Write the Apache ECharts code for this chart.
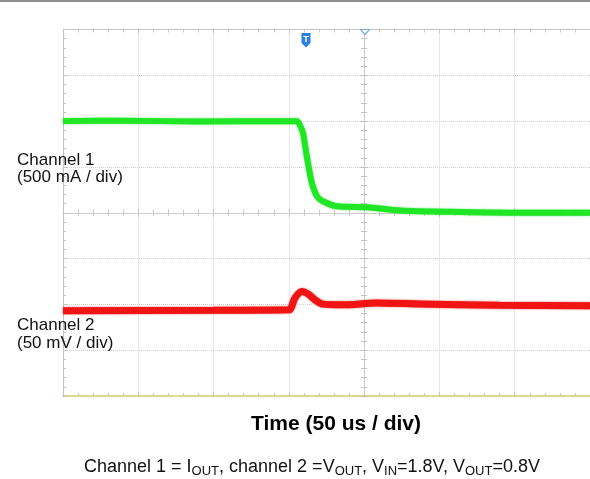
<!DOCTYPE html>
<html>
<head>
<meta charset="utf-8">
<script src="https://cdn.jsdelivr.net/npm/echarts@6/dist/echarts.min.js"></script>
<style>
  html, body { margin: 0; padding: 0; background: #ffffff; }
  #chart { width: 590px; height: 479px; }
</style>
</head>
<body>
<div id="chart"></div>
<script>
// Scope capture of a load step. Time in microseconds, trace levels in
// screen divisions counted up from the bottom graticule line.
const ch1TimeUs = [0, 40, 90, 150, 155.5, 157.5, 159.4, 162, 165.3, 168.7, 172.6, 182, 202, 224, 257, 300, 350];
const ch1Div    = [6.0, 6.01, 5.99, 6.0, 6.0, 5.9, 5.74, 5.22, 4.65, 4.36, 4.25, 4.14, 4.12, 4.05, 4.02, 4.0, 4.0];

const ch2TimeUs = [0, 100, 150, 154, 158.7, 162.7, 167.3, 172, 186, 208.5, 237, 290, 350];
const ch2Div    = [1.86, 1.87, 1.88, 2.14, 2.28, 2.23, 2.10, 2.01, 1.99, 2.03, 2.01, 1.98, 1.97];

// Graticule: 7 visible time divisions of 50 us, 8 vertical divisions.
const timeMin = 0, timeMax = 350, timePerDiv = 50, timeCenter = 200;
const divMin = 0, divMax = 8, divCenter = 4;

const ch1Labels = ['Channel 1', '(500 mA / div)'];
const ch2Labels = ['Channel 2', '(50 mV / div)'];
const timeTitle = 'Time (50 us / div)';
const captionRich = 'Channel 1 = I{s|OUT}, channel 2 =V{s|OUT}, V{s|IN}=1.8V, V{s|OUT}=0.8V';

const FONT = 'Liberation Sans, Arial, sans-serif';
const GRID_COLOR = '#d2d2d2';
const TICK_COLOR = '#c4c4c4';

function pairs(xs, ys) { return xs.map((x, i) => [x, ys[i]]); }

const chart = echarts.init(document.getElementById('chart'), null, { renderer: 'canvas' });

const hidden = { show: false };
function tickAxisBase(extra) {
  return Object.assign({
    type: 'value',
    axisLabel: hidden,
    splitLine: hidden,
    axisLine: { show: true, onZero: false, lineStyle: { color: TICK_COLOR, width: 1 } },
    axisTick: { show: true, inside: true, length: 4, lineStyle: { color: TICK_COLOR } },
    minorTick: { show: true, splitNumber: 5, length: 3, lineStyle: { color: TICK_COLOR } },
    minorSplitLine: hidden
  }, extra);
}

chart.setOption({
  animation: false,
  backgroundColor: '#ffffff',
  grid: { left: 63, right: 0, top: 29.5, bottom: 83, outerBoundsMode: 'none' },
  xAxis: [
    // main time axis (bottom edge of the graticule)
    tickAxisBase({
      min: timeMin, max: timeMax, interval: timePerDiv, position: 'bottom',
      axisLine: { show: true, onZero: false, lineStyle: { color: '#dada8c', width: 2 } },
      splitLine: { show: true, lineStyle: { color: GRID_COLOR, type: 'dotted', width: 1 } }
    }),
    // top edge
    tickAxisBase({ min: timeMin, max: timeMax, interval: timePerDiv, position: 'top' }),
    // horizontal centre line, ticks above
    tickAxisBase({
      min: timeMin, max: timeMax, interval: timePerDiv, position: 'bottom',
      axisLine: { show: true, onZero: true, onZeroAxisIndex: 3, lineStyle: { color: TICK_COLOR, width: 1, type: 'dotted' } }
    }),
    // horizontal centre line, ticks below
    tickAxisBase({
      min: timeMin, max: timeMax, interval: timePerDiv, position: 'bottom',
      axisLine: { show: false, onZero: true, onZeroAxisIndex: 3 },
      axisTick: { show: true, inside: false, length: 4, lineStyle: { color: TICK_COLOR } }
    }),
    // reference axis whose zero sits on the trigger time
    { type: 'value', show: false, min: timeMin - timeCenter, max: timeMax - timeCenter,
      axisLine: { onZero: false } }
  ],
  yAxis: [
    // main level axis (left edge)
    tickAxisBase({
      min: divMin, max: divMax, interval: 1, position: 'left',
      splitLine: { show: true, lineStyle: { color: GRID_COLOR, type: 'dotted', width: 1 } }
    }),
    // vertical centre line, ticks to the right
    tickAxisBase({
      min: divMin, max: divMax, interval: 1, position: 'left',
      axisLine: { show: true, onZero: true, onZeroAxisIndex: 4, lineStyle: { color: TICK_COLOR, width: 1, type: 'dotted' } }
    }),
    // vertical centre line, ticks to the left
    tickAxisBase({
      min: divMin, max: divMax, interval: 1, position: 'left',
      axisLine: { show: false, onZero: true, onZeroAxisIndex: 4 },
      axisTick: { show: true, inside: false, length: 4, lineStyle: { color: TICK_COLOR } }
    }),
    // reference axis whose zero sits on the vertical centre
    { type: 'value', show: false, min: divMin - divCenter, max: divMax - divCenter,
      axisLine: { onZero: false } }
  ],
  series: [
    {
      name: 'Channel 1', type: 'line', xAxisIndex: 0, yAxisIndex: 0,
      data: pairs(ch1TimeUs, ch1Div), showSymbol: false, smooth: 0.25, z: 5,
      lineStyle: { color: '#20e626', width: 6, shadowBlur: 2, shadowColor: 'rgba(32,230,38,0.7)' }
    },
    {
      name: 'Channel 2', type: 'line', xAxisIndex: 0, yAxisIndex: 0,
      data: pairs(ch2TimeUs, ch2Div), showSymbol: false, smooth: 0.25, z: 5,
      lineStyle: { color: '#f01414', width: 7, shadowBlur: 2, shadowColor: 'rgba(240,20,20,0.7)' }
    }
  ],
  graphic: [
    // frame strip along the top edge
    { type: 'rect', shape: { x: 0, y: 0, width: 590, height: 2 }, style: { fill: '#8e8e8e' }, silent: true },
    // trigger position marker
    { type: 'polygon', shape: { points: [[301.5, 33], [310.5, 33], [310.5, 43], [306, 47.5], [301.5, 43]] },
      style: { fill: '#2d7fe2' }, z: 10 },
    { type: 'text', x: 306, y: 39.5, z: 11,
      style: { text: 'T', fill: '#ffffff', font: 'bold 9px ' + FONT, align: 'center', verticalAlign: 'middle' } },
    // delay marker
    { type: 'polygon', shape: { points: [[360.5, 29.5], [369.5, 29.5], [365, 34.5]] },
      style: { fill: '#ffffff', stroke: '#78aee6', lineWidth: 1.2 }, z: 10 },
    // channel annotations
    { type: 'text', x: 17, y: 160.5, z: 12,
      style: { text: ch1Labels[0], fill: '#111111', font: '17px ' + FONT, align: 'left', verticalAlign: 'middle' } },
    { type: 'text', x: 17, y: 177.5, z: 12,
      style: { text: ch1Labels[1], fill: '#111111', font: '17px ' + FONT, align: 'left', verticalAlign: 'middle' } },
    { type: 'text', x: 17, y: 325.5, z: 12,
      style: { text: ch2Labels[0], fill: '#111111', font: '17px ' + FONT, align: 'left', verticalAlign: 'middle' } },
    { type: 'text', x: 17, y: 343, z: 12,
      style: { text: ch2Labels[1], fill: '#111111', font: '17px ' + FONT, align: 'left', verticalAlign: 'middle' } },
    // time axis title
    { type: 'text', x: 336, y: 424, z: 12,
      style: { text: timeTitle, fill: '#000000', font: 'bold 21px ' + FONT, align: 'center', verticalAlign: 'middle' } },
    // measurement conditions
    { type: 'text', x: 312, y: 467, z: 12,
      style: {
        text: captionRich, fill: '#111111', font: '18px ' + FONT, align: 'center', verticalAlign: 'middle',
        lineHeight: 22,
        rich: { s: { fontSize: 13, fontFamily: FONT, fill: '#111111', verticalAlign: 'bottom', lineHeight: 8 } }
      } }
  ]
});
</script>
</body>
</html>
